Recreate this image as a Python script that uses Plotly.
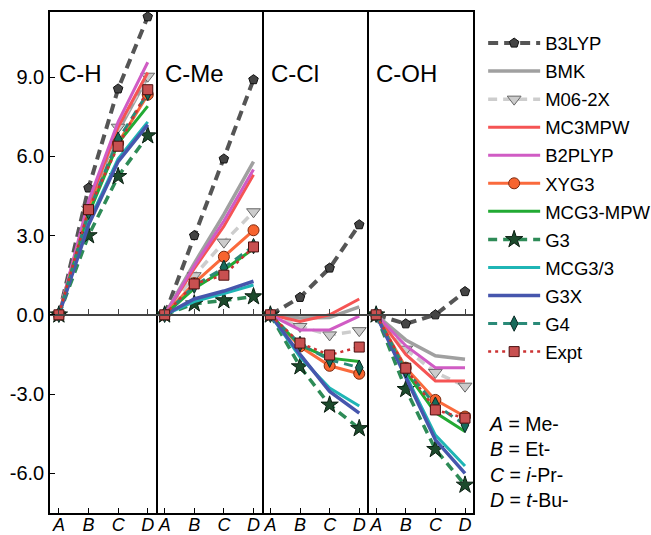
import plotly.graph_objects as go

# Substituent positions along each panel (A = Me-, B = Et-, C = i-Pr-, D = t-Bu-)
SUBSTITUENTS = ["A", "B", "C", "D"]
BONDS = ["C-H", "C-Me", "C-Cl", "C-OH"]
Y_TICKS = [-6.0, -3.0, 0.0, 3.0, 6.0, 9.0]
Y_TICK_TEXT = ["-6.0", "-3.0", "0.0", "3.0", "6.0", "9.0"]

# Relative values for each method, one inner list per bond (C-H, C-Me, C-Cl, C-OH)
B3LYP = [[0, 4.80, 8.55, 11.28], [0, 3.00, 5.90, 8.90], [0, 0.66, 1.77, 3.41], [0, -0.34, 0.00, 0.88]]
BMK = [[0, 4.10, 6.95, 9.00], [0, 1.95, 3.80, 5.80], [0, -0.12, -0.10, 0.30], [0, -0.95, -1.55, -1.68]]
M06_2X = [[0, 4.00, 7.10, 9.03], [0, 1.48, 2.75, 3.90], [0, -0.44, -0.76, -0.60], [0, -1.30, -2.18, -2.70]]
MC3MPW = [[0, 4.15, 7.10, 9.17], [0, 1.75, 3.35, 5.30], [0, -0.25, 0.00, 0.60], [0, -1.50, -2.50, -2.50]]
B2PLYP = [[0, 4.30, 7.30, 9.56], [0, 1.85, 3.55, 5.50], [0, -0.57, -0.57, -0.05], [0, -1.17, -2.00, -2.00]]
XYG3 = [[0, 3.95, 6.50, 8.33], [0, 1.20, 2.20, 3.20], [0, -1.20, -1.93, -2.23], [0, -2.00, -3.22, -3.85]]
MCG3_MPW = [[0, 3.80, 6.50, 7.90], [0, 1.00, 1.70, 2.50], [0, -1.15, -1.64, -1.77], [0, -2.15, -3.70, -4.42]]
G3 = [[0, 3.00, 5.24, 6.78], [0, 0.42, 0.54, 0.69], [0, -1.96, -3.41, -4.30], [0, -2.82, -5.09, -6.44]]
MCG3_3 = [[0, 3.50, 5.90, 7.30], [0, 0.50, 0.80, 1.13], [0, -1.60, -2.77, -3.45], [0, -2.30, -4.55, -5.72]]
G3X = [[0, 3.40, 5.80, 7.20], [0, 0.60, 0.90, 1.27], [0, -1.50, -2.90, -3.72], [0, -2.40, -4.73, -6.00]]
G4 = [[0, 3.90, 6.63, 8.40], [0, 1.10, 1.78, 2.60], [0, -1.10, -1.70, -2.00], [0, -2.10, -3.40, -4.17]]
EXPT = [[0, 3.98, 6.38, 8.52], [0, 1.17, 1.50, 2.57], [0, -1.07, -1.52, -1.22], [0, -2.02, -3.60, -3.91]]

# name, values, line colour, width, dash, marker symbol, marker fill, marker edge, marker size
SERIES = [
    ("B3LYP", B3LYP, "#555555", 4.0, "10px,6px", "pentagon", "#444444", "#111111", 10),
    ("BMK", BMK, "#a0a0a0", 3.5, "solid", None, None, None, 0),
    ("M06-2X", M06_2X, "#cdcdcd", 3.5, "9px,6px", "triangle-down", "#cccccc", "#666666", 12),
    ("MC3MPW", MC3MPW, "#f55454", 3.0, "solid", None, None, None, 0),
    ("B2PLYP", B2PLYP, "#d05cc4", 3.0, "solid", None, None, None, 0),
    ("XYG3", XYG3, "#fa6a3c", 3.0, "solid", "circle", "#f7642f", "#7a2a10", 11),
    ("MCG3-MPW", MCG3_MPW, "#22aa33", 3.0, "solid", None, None, None, 0),
    ("G3", G3, "#2e8b57", 3.5, "9px,6px", "star", "#1c4a2c", "#0b1f12", 13),
    ("MCG3/3", MCG3_3, "#1fb5b5", 3.0, "solid", None, None, None, 0),
    ("G3X", G3X, "#4656ad", 3.5, "solid", None, None, None, 0),
    ("G4", G4, "#2a8a78", 3.0, "9px,6px", "diamond-tall", "#166a5a", "#0a2a24", 11),
    ("Expt", EXPT, "#cc3333", 2.5, "3px,4px", "square", "#c85050", "#4a1010", 10),
]

FONT = "Liberation Sans, Arial, Helvetica, sans-serif"
Y_RANGE = [-7.5, 11.46]
X_RANGE = [-0.30, 3.27]

fig = go.Figure()

for name, values, color, width, dash, symbol, fill, edge, size in SERIES:
    for p, vals in enumerate(values):
        ax = "" if p == 0 else str(p + 1)
        kw = dict(
            x=SUBSTITUENTS, y=vals, name=name, legendgroup=name,
            showlegend=(p == 0), xaxis="x" + ax, yaxis="y" + ax,
            line=dict(color=color, width=width, dash=dash),
        )
        if symbol:
            kw["mode"] = "lines+markers"
            kw["marker"] = dict(symbol=symbol, color=fill, size=size,
                                line=dict(color=edge, width=1))
        else:
            kw["mode"] = "lines"
        fig.add_trace(go.Scatter(**kw))

layout = dict(
    width=651, height=535,
    margin=dict(l=50, r=178, t=12, b=22, autoexpand=False),
    plot_bgcolor="white", paper_bgcolor="white",
    font=dict(family=FONT, color="black"),
    showlegend=True,
    legend=dict(x=1.024, y=0.975, xanchor="left", yanchor="top",
                font=dict(size=18.5, family=FONT), bgcolor="rgba(0,0,0,0)",
                itemwidth=52, tracegroupgap=1),
)

zero_pos = -Y_RANGE[0] / (Y_RANGE[1] - Y_RANGE[0])
annotations = []
for p in range(4):
    ax = "" if p == 0 else str(p + 1)
    dom = [p / 4, (p + 1) / 4]
    layout["xaxis" + ax] = dict(
        domain=dom, anchor="y" + ax, type="category", range=X_RANGE,
        showline=True, mirror=True, linecolor="black", linewidth=1.5,
        ticks="inside", ticklen=5, tickcolor="black", showgrid=False, zeroline=False,
        tickfont=dict(size=18, style="italic", family=FONT), automargin=False,
        ticklabelstandoff=-5,
    )
    ydef = dict(
        domain=[0, 1], anchor="x" + ax, range=Y_RANGE,
        showline=True, linecolor="black", linewidth=1.5,
        showgrid=False, zeroline=False, automargin=False,
    )
    if p == 0:
        ydef.update(tickvals=Y_TICKS, ticktext=Y_TICK_TEXT, ticks="inside", mirror=True,
                    ticklen=5, tickcolor="black", tickfont=dict(size=20, family=FONT))
    else:
        # only the right-hand border of the panel
        ydef.update(matches="y", side="right", showticklabels=False, ticks="")
    layout["yaxis" + ax] = ydef
    # baseline at zero with upward ticks
    layout["xaxis" + str(p + 5)] = dict(
        overlaying="x" + ax, anchor="free", position=zero_pos, type="category",
        range=X_RANGE, categoryarray=SUBSTITUENTS, categoryorder="array",
        showline=True, linecolor="#444444", linewidth=1.5,
        ticks="inside", ticklen=5, tickcolor="#444444", tickvals=SUBSTITUENTS,
        showticklabels=False, showgrid=False, zeroline=False, automargin=False,
    )
    annotations.append(dict(
        text=BONDS[p], xref="x" + ax + " domain", yref="paper",
        x=0.068, y=0.877, xanchor="left", yanchor="middle",
        showarrow=False, font=dict(size=24, family=FONT),
    ))

annotations.append(dict(
    text="<i>A</i> = Me-<br><i>B</i> = Et-<br><i>C</i> = <i>i</i>-Pr-<br><i>D</i> = <i>t</i>-Bu-",
    xref="paper", yref="paper", x=1.034, y=0.204, xanchor="left", yanchor="top",
    align="left", showarrow=False, font=dict(size=19.5, family=FONT),
))
layout["annotations"] = annotations

# keep the zero-baseline axes in the subplot set
for p in range(4):
    fig.add_trace(go.Scatter(x=["A"], y=[None], xaxis="x" + str(p + 5),
                             yaxis="y" if p == 0 else "y" + str(p + 1),
                             showlegend=False, hoverinfo="skip", mode="lines"))

fig.update_layout(**layout)
fig.write_html("out.html")
